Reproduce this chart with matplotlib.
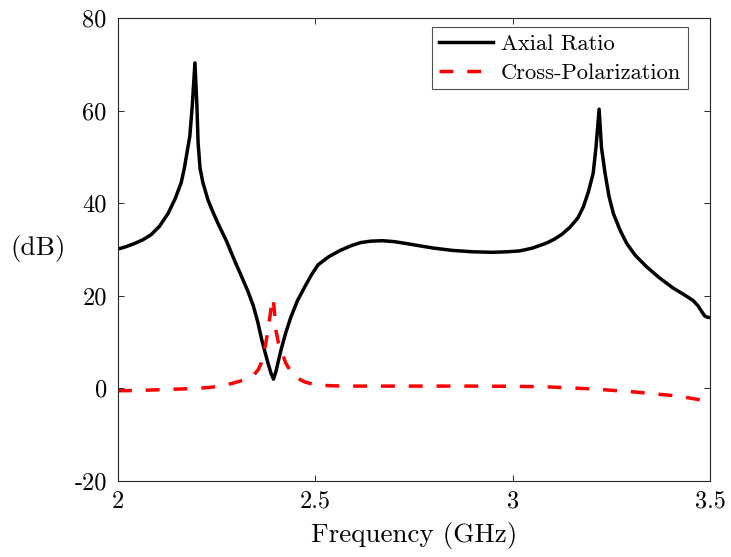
import numpy as np
import matplotlib
matplotlib.use("Agg")
import matplotlib.pyplot as plt

# ------------------------------------------------------------------
# DATA
# ------------------------------------------------------------------
ar_freq = [2.000, 2.020, 2.042, 2.063, 2.084, 2.105, 2.127, 2.145, 2.160,
           2.168, 2.175, 2.182, 2.188, 2.195, 2.200, 2.203, 2.208, 2.215,
           2.228, 2.240, 2.253, 2.275, 2.295, 2.315, 2.330, 2.343, 2.354,
           2.364, 2.372, 2.380, 2.388, 2.394, 2.400, 2.406, 2.413, 2.425,
           2.438, 2.455, 2.473, 2.490, 2.507, 2.535, 2.563, 2.590, 2.615,
           2.640, 2.670, 2.700, 2.730, 2.764, 2.800, 2.848, 2.900, 2.950,
           2.985, 3.018, 3.050, 3.086, 3.105, 3.125, 3.145, 3.165, 3.179,
           3.192, 3.204, 3.211, 3.219, 3.225, 3.234, 3.244, 3.255, 3.272,
           3.289, 3.310, 3.339, 3.370, 3.406, 3.435, 3.457, 3.470, 3.479,
           3.486, 3.492, 3.500]
axial_ratio = [30.1, 30.6, 31.3, 32.1, 33.2, 35.0, 37.8, 41.0, 44.4,
               47.5, 51.0, 54.5, 60.8, 70.3, 61.0, 53.0, 47.5, 44.5,
               40.7, 38.2, 35.7, 31.8, 27.7, 23.8, 20.8, 17.8, 14.4,
               10.6, 8.0, 5.5, 3.2, 2.0, 3.6, 5.8, 8.3, 12.0,
               15.4, 19.0, 21.9, 24.5, 26.7, 28.5, 29.8, 30.8, 31.5,
               31.8, 31.9, 31.7, 31.3, 30.8, 30.3, 29.8, 29.5, 29.4,
               29.5, 29.7, 30.3, 31.4, 32.2, 33.3, 34.8, 36.8, 39.2,
               42.5, 46.5, 52.0, 60.3, 52.0, 46.5, 41.5, 37.8, 34.2,
               31.3, 28.8, 26.3, 24.0, 21.7, 20.2, 19.0, 17.8, 16.6,
               15.7, 15.4, 15.3]

xp_freq = [2.000, 2.050, 2.100, 2.150, 2.200, 2.230, 2.250, 2.270, 2.290,
           2.310, 2.330, 2.345, 2.355, 2.362, 2.367, 2.374, 2.380, 2.385,
           2.389, 2.393, 2.396, 2.400, 2.406, 2.413, 2.425, 2.438, 2.455,
           2.473, 2.490, 2.507, 2.550, 2.600, 2.700, 2.800, 2.900, 3.000,
           3.050, 3.100, 3.150, 3.200, 3.250, 3.300, 3.350, 3.400, 3.430,
           3.450, 3.470, 3.480, 3.490, 3.500]
cross_pol = [-0.5, -0.45, -0.3, -0.15, 0.0, 0.2, 0.4, 0.7, 1.1,
             1.6, 2.2, 3.0, 4.0, 5.3, 6.9, 9.5, 12.6, 15.5,
             18.0, 19.5, 17.0, 12.6, 10.0, 8.3, 5.5, 3.6, 2.2,
             1.4, 1.0, 0.7, 0.55, 0.5, 0.5, 0.5, 0.5, 0.45,
             0.4, 0.3, 0.1, -0.1, -0.4, -0.7, -1.1, -1.5, -1.8,
             -2.1, -2.4, -2.6, -2.9, -3.2]

x_ticks = [2, 2.5, 3, 3.5]
x_tick_labels = ["2", "2.5", "3", "3.5"]
y_ticks = [-20, 0, 20, 40, 60, 80]
y_tick_labels = ["-20", "0", "20", "40", "60", "80"]

# ------------------------------------------------------------------
# ESTILO
# ------------------------------------------------------------------
plt.rcParams['font.family'] = ['cmr10', 'DejaVu Serif']
plt.rcParams['mathtext.fontset'] = 'cm'
plt.rcParams['axes.unicode_minus'] = False
plt.rcParams['axes.formatter.use_mathtext'] = True

axis_col = (0.15, 0.15, 0.15)

fig = plt.figure(figsize=(7.31, 5.57), dpi=100)
ax = fig.add_axes([0.1614, 0.1364, 0.8099, 0.8313])

ax.plot(ar_freq, axial_ratio, color='black', lw=2.5, label='Axial Ratio')
ax.plot(xp_freq, cross_pol, color='red', lw=2.5, linestyle=(0, (4, 4)),
        label='Cross-Polarization')

ax.set_xlim(2, 3.5)
ax.set_ylim(-20, 80)
ax.set_xticks(x_ticks)
ax.set_xticklabels(x_tick_labels)
ax.set_yticks(y_ticks)
ax.set_yticklabels(y_tick_labels)

ax.tick_params(direction='in', length=4.3, width=0.7, color=axis_col,
               labelsize=17.5, labelcolor='black', top=True, right=True)
ax.tick_params(axis='x', pad=7)
ax.tick_params(axis='y', pad=8)
for s in ax.spines.values():
    s.set_color(axis_col)
    s.set_linewidth(0.8)

ax.set_xlabel('Frequency (GHz)', fontsize=19.5)
ax.xaxis.set_label_coords(0.5, -0.088)
ax.set_ylabel('(dB)', fontsize=19.5, rotation=0, ha='center', va='center')
ax.yaxis.set_label_coords(-0.135, 0.503)

leg = ax.legend(loc='upper right', bbox_to_anchor=(0.963, 0.980),
                borderaxespad=0, fontsize=16.2, frameon=True, fancybox=False,
                handlelength=2.4, handletextpad=0.35, borderpad=0.3,
                labelspacing=0.4)
leg.get_frame().set_edgecolor(axis_col)
leg.get_frame().set_linewidth(0.8)

fig.savefig('out.png', dpi=100)
